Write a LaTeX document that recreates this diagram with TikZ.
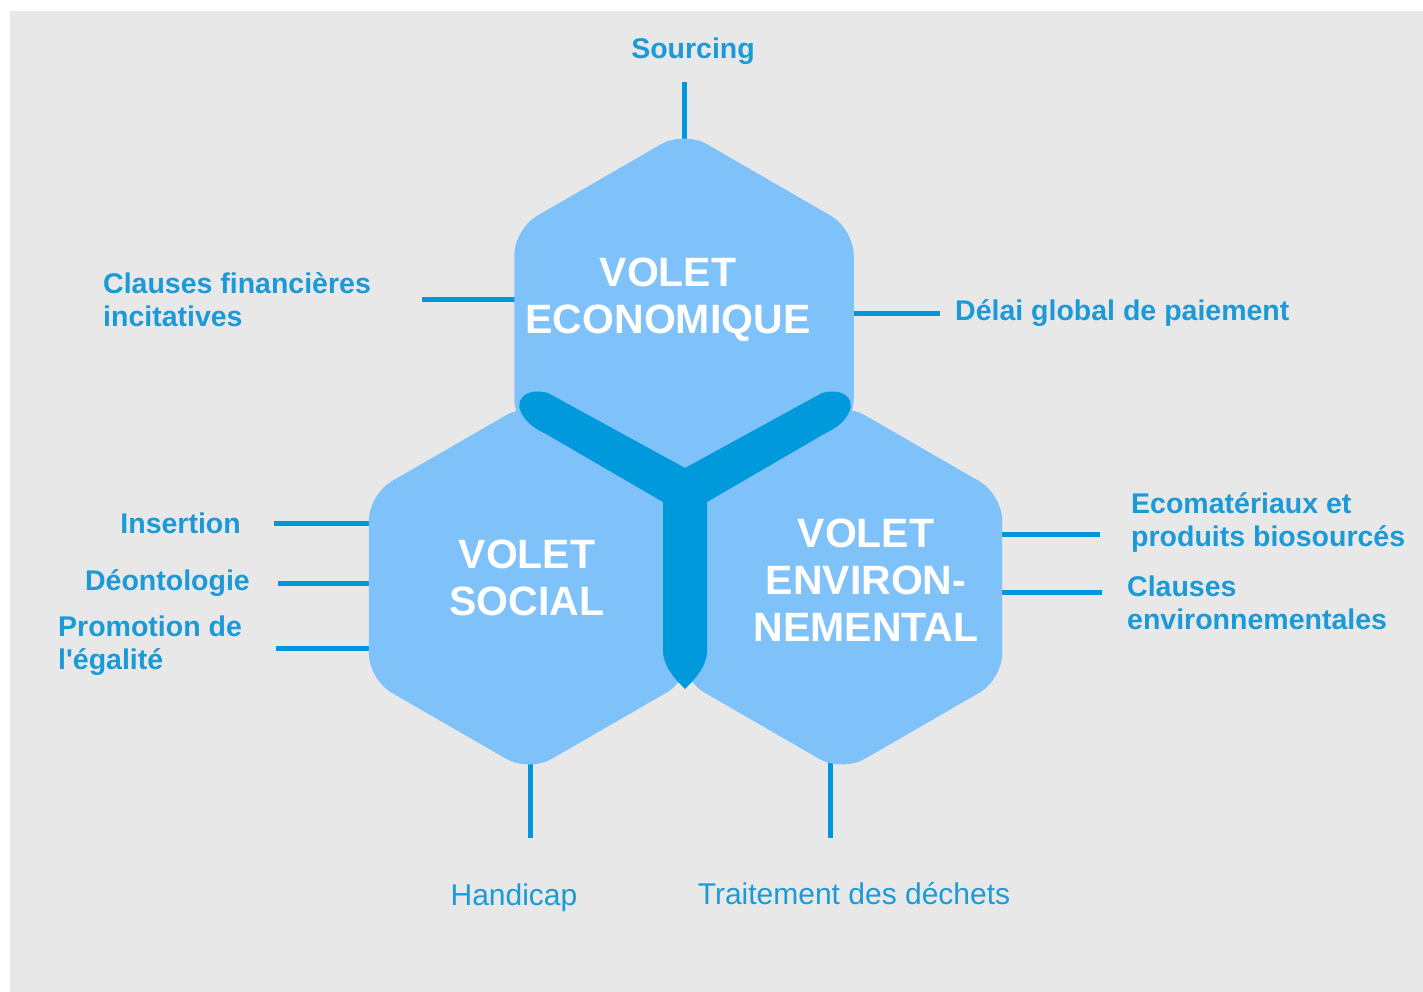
\documentclass[tikz,border=0pt]{standalone}
\usepackage{fontspec}
\setmainfont{Liberation Sans}
\usetikzlibrary{shapes.geometric}

\definecolor{bggray}{RGB}{232,232,232}
\definecolor{hexblue}{RGB}{127,193,249}
\definecolor{ydark}{RGB}{0,153,219}
\definecolor{linkblue}{RGB}{0,150,217}
\definecolor{txtblue}{RGB}{27,154,215}

\pgfdeclarelayer{links}
\pgfsetlayers{links,main}

\tikzset{
  hexa/.style={regular polygon, regular polygon sides=6, shape border rotate=30,
    minimum size=#1, inner sep=0pt, outer sep=0pt, fill=hexblue, rounded corners=26pt},
  title/.style={text=white, align=center, inner sep=0pt,
    font=\bfseries\fontsize{41}{47}\selectfont},
  lbl/.style={text=txtblue, inner sep=0pt, align=left,
    font=\bfseries\fontsize{28.5}{33}\selectfont},
  lblnarrow/.style={text=txtblue, inner sep=0pt,
    font=\fontsize{30}{35}\selectfont},
  link/.style={draw=linkblue, line width=5pt}
}

\begin{document}
\begin{tikzpicture}[x=1pt,y=-1pt]
\useasboundingbox (0,0) rectangle (1423,992);

% the three volets
\node[hexa=392] (eco) at (684,327) {};
\node[hexa=370] (soc) at (529,587) {};
\node[hexa=370] (env) at (842,587) {};

% dark Y between the volets
\fill[ydark] (685,468) -- (548,393)
  .. controls (530,388) and (516,396) .. (520,410)
  .. controls (525,423) and (536,429) .. (546,434)
  -- (663,502) -- (663,652)
  .. controls (664,668) and (676,680) .. (685,689)
  .. controls (694,680) and (706,668) .. (707,652)
  -- (707,502) -- (824,434)
  .. controls (834,429) and (845,423) .. (850,410)
  .. controls (854,396) and (840,388) .. (822,393) -- cycle;

\node[title] (teco) at (668,300) {VOLET\\ECONOMIQUE};
\node[title] (tsoc) at (527,578) {VOLET\\SOCIAL};
\node[title] (tenv) at (866,580) {VOLET\\ENVIRON-\\NEMENTAL};

% labels
\node[lbl, anchor=base] (src) at (693,59) {Sourcing};
\node[lbl, anchor=west] (cfin) at (103,300) {Clauses financières\\incitatives};
\node[lbl, anchor=west] (delai) at (955,313) {Délai global de paiement};
\node[lbl, anchor=east] (ins) at (241,523) {Insertion};
\node[lbl, anchor=east] (deo) at (250,583) {Déontologie};
\node[lbl, anchor=west] (prom) at (58,646) {Promotion de\\l\textquotesingle égalité};
\node[lbl, anchor=west] (ecomat) at (1131,523) {Ecomatériaux et\\produits biosourcés};
\node[lbl, anchor=west] (clenv) at (1127,603) {Clauses\\environnementales};
\node[lblnarrow, anchor=base] (hand) at (514,905) {Handicap};
\node[lblnarrow, anchor=base] (trait) at (854,904) {Traitement des déchets};

\coordinate (c-src) at (684,82);
\coordinate (c-cfin) at (422,299);
\coordinate (c-delai) at (940,313);
\coordinate (c-ins) at (274,523);
\coordinate (c-deo) at (278,583);
\coordinate (c-prom) at (276,648);
\coordinate (c-ecomat) at (1100,534);
\coordinate (c-clenv) at (1102,592);
\coordinate (c-hand) at (530,838);
\coordinate (c-trait) at (830,838);

\begin{pgfonlayer}{links}
\fill[white] (0,0) rectangle (1423,992);
\fill[bggray] (10,11) rectangle (1423,992);
\draw[link] (c-src) -- (c-src |- eco.center);
\draw[link] (c-cfin) -- (c-cfin -| eco.center);
\draw[link] (c-delai) -- (c-delai -| eco.center);
\draw[link] (c-ins) -- (c-ins -| soc.center);
\draw[link] (c-deo) -- (c-deo -| soc.center);
\draw[link] (c-prom) -- (c-prom -| soc.center);
\draw[link] (c-ecomat) -- (c-ecomat -| env.center);
\draw[link] (c-clenv) -- (c-clenv -| env.center);
\draw[link] (c-hand) -- (c-hand |- soc.center);
\draw[link] (c-trait) -- (c-trait |- env.center);
\end{pgfonlayer}
\end{tikzpicture}
\end{document}
